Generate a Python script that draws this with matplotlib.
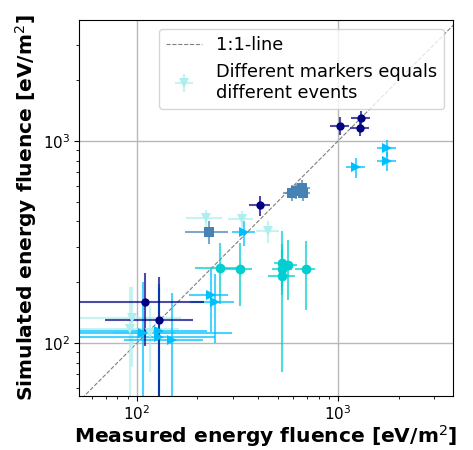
import matplotlib.pyplot as plt
from matplotlib.colors import to_rgba
import numpy as np

#---------------- data ----------------#
# navy circles
nv_x = [410, 1020, 1305, 1285, 110, 129]
nv_y = [482, 1190, 1295, 1165, 159, 130]
nv_xe = [50, 110, 140, 140, 105, 60]
nv_ye = [55, 120, 110, 110, 62, 83]

# steelblue squares
sb_x = [229, 590, 615, 665, 668]
sb_y = [356, 553, 565, 585, 555]
sb_xe = [56, 55, 55, 60, 60]
sb_ye = [46, 50, 50, 55, 50]

# deepskyblue right triangles
ds_x = [1230, 1760, 1760, 342, 233, 244, 107, 128, 128, 149]
ds_y = [741, 921, 796, 353, 173, 160, 112, 115, 107, 103]
ds_xe = [135, 190, 190, 45, 52, 60, 189, 94, 117, 63]
ds_ye = [82, 85, 85, 50, 60, 60, 88, 80, 80, 74]

# paleturquoise down triangles
pt_x = [220, 332, 450, 95, 92, 116]
pt_y = [414, 409, 358, 133, 118, 112]
pt_xe = [45, 47, 60, 70, 70, 40]
pt_ye = [40, 40, 45, 57, 72, 40]

# darkturquoise circles
dt_x = [259, 325, 528, 566, 528, 528, 690]
dt_y = [234, 232, 250, 243, 232, 215, 233]
dt_xe = [65, 50, 50, 60, 60, 80, 80]
dt_ye = [78, 80, 60, 80, 60, 143, 87]

xlims = (51.5, 3730)
ylims = (54.7, 3970)

#---------------- figure ----------------#
fig = plt.figure(figsize=(4.73, 4.5), dpi=100)
ax = fig.add_axes([79/473, 54/450, 374/473, 376/450])

ax.plot([40, 5000], [40, 5000], '--', color='grey', lw=0.8, label='1:1-line', zorder=1)

def ebar(x, y, xe, ye, col, mk, ms, lab=None):
    ax.errorbar(x, y, xerr=xe, yerr=ye, fmt=mk, color=col, ms=ms,
                ecolor=to_rgba(col, 0.7), elinewidth=1.5, label=lab,
                markeredgewidth=0, zorder=2)

ebar(pt_x, pt_y, pt_xe, pt_ye, 'paleturquoise', 'v', 7,
     'Different markers equals\ndifferent events')
ebar(dt_x, dt_y, dt_xe, dt_ye, 'darkturquoise', 'o', 7)
ebar(ds_x, ds_y, ds_xe, ds_ye, 'deepskyblue', '>', 7)
ebar(sb_x, sb_y, sb_xe, sb_ye, 'steelblue', 's', 6.5)
ebar(nv_x, nv_y, nv_xe, nv_ye, 'navy', 'o', 6)

ax.set_xscale('log')
ax.set_yscale('log')
ax.set_xlim(xlims)
ax.set_ylim(ylims)
ax.grid(True, which='major', color='#b8b8b8', lw=1)
ax.set_axisbelow(True)
ax.tick_params(labelsize=11, pad=2.5)

ax.set_xlabel('Measured energy fluence [eV/m$^2$]', fontsize=14.6, fontweight='bold', labelpad=0)
ax.set_ylabel('Simulated energy fluence [eV/m$^2$]', fontsize=14.6, fontweight='bold', labelpad=3)

ax.legend(loc='upper right', fontsize=12.8)

plt.savefig('out.png', dpi=100)
